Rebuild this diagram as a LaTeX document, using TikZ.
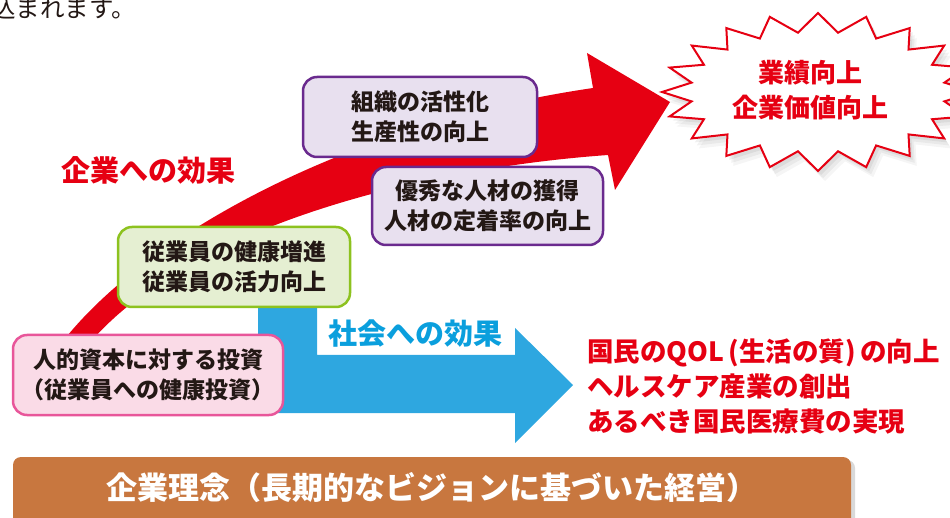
\documentclass[tikz,border=0pt]{standalone}
\usepackage{fontspec}
\setmainfont{Noto Sans CJK JP}
\definecolor{cred}{HTML}{E60012}
\definecolor{cblue}{HTML}{2EA7E0}
\definecolor{cbluetext}{HTML}{0A9FDD}
\definecolor{cpurple}{HTML}{6A2A8E}
\definecolor{cpurplefill}{HTML}{E8E0EF}
\definecolor{cgreen}{HTML}{8DC21F}
\definecolor{cgreenfill}{HTML}{E5EFD2}
\definecolor{cpink}{HTML}{E8569A}
\definecolor{cpinkfill}{HTML}{FADBE7}
\definecolor{cbrown}{HTML}{C8773F}
\definecolor{cdark}{HTML}{231815}
\begin{document}
\begin{tikzpicture}[x=1pt,y=-1pt,
  boxstyle/.style={rounded corners=14pt, line width=2.5pt, align=center, inner sep=0pt,
    text=cdark, font=\fontsize{23}{30}\selectfont\bfseries},
  purplebox/.style={boxstyle, draw=cpurple, fill=cpurplefill},
  greenbox/.style={boxstyle, draw=cgreen, fill=cgreenfill},
  pinkbox/.style={boxstyle, draw=cpink, fill=cpinkfill},
  redlabel/.style={text=cred, inner sep=0pt, font=\fontsize{29}{35}\selectfont\bfseries},
  bluelabel/.style={text=cbluetext, inner sep=0pt, font=\fontsize{29}{35}\selectfont\bfseries},
]
\useasboundingbox (0,0) rectangle (950,518);

% partial text at top left
\node[anchor=base west, inner sep=0pt, text=cdark, font=\fontsize{24.5}{28}\selectfont] (toptext) at (-9,18) {込まれます。};

% red curved arrow
\coordinate (redtip) at (670,102);
\fill[cred] (60,345) .. controls (140,240) and (340,125) .. (593,88) -- (587,53) -- (redtip)
  -- (615,190) -- (608,155) .. controls (400,170) and (180,235) .. (88,345) -- cycle;

% blue arrow
\coordinate (bluetip) at (573,385);
\fill[cblue] (258,300) -- (317,300) -- (317,355) -- (515,355) -- (515,328) -- (bluetip)
  -- (515,443) -- (515,413) -- (268,413) -- (258,403) -- cycle;

% boxes
\node[purplebox, minimum width=234pt, minimum height=80pt] (org) at (420,117)
  {組織の活性化\\生産性の向上};
\node[purplebox, minimum width=231pt, minimum height=78pt] (talent) at (487.5,206)
  {優秀な人材の獲得\\人材の定着率の向上};
\node[greenbox, minimum width=232pt, minimum height=80pt] (health) at (234,267)
  {従業員の健康増進\\従業員の活力向上};
\node[pinkbox, minimum width=270pt, minimum height=80pt] (invest) at (148,375)
  {人的資本に対する投資\\（従業員への健康投資）};

% labels
\node[redlabel] (corpeff) at (148,170) {企業への効果};
\node[bluelabel] (soceff) at (415,334) {社会への効果};

% starburst
\begin{scope}[shift={(818,92)}]
  \foreach \dx/\dy/\op in {7/10/0.04, 5/7/0.05, 3/4/0.06} {
    \fill[black, opacity=\op, shift={(\dx,\dy)}] (0:156 and 79)
      \foreach \a in {0,18,...,342} { -- (\a:156 and 79) -- (\a+9:128 and 60) } -- cycle;
  }
  \draw[cred, fill=white, line width=2pt, line join=miter] (0:156 and 79)
    \foreach \a in {0,18,...,342} { -- (\a:156 and 79) -- (\a+9:128 and 60) } -- cycle;
\end{scope}
\node[text=cred, inner sep=0pt, align=center, font=\fontsize{26}{35}\selectfont\bfseries] (result) at (810,90)
  {業績向上\\企業価値向上};

% society effects text
\node[anchor=west, text=cred, inner sep=0pt, align=left, font=\fontsize{26.5}{35}\selectfont\bfseries] (society) at (587,386)
  {国民のQOL\,(生活の質)\,の向上\\ヘルスケア産業の創出\\あるべき国民医療費の実現};

% bottom banner
\fill[black, opacity=0.15, rounded corners=8pt] (17,460) rectangle (855,540);
\fill[cbrown, rounded corners=8pt] (13,457) rectangle (851,540);
\node[text=white, inner sep=0pt, font=\fontsize{31}{36}\selectfont\bfseries] (philo) at (432,488)
  {企業理念（長期的なビジョンに基づいた経営）};
\end{tikzpicture}
\end{document}
